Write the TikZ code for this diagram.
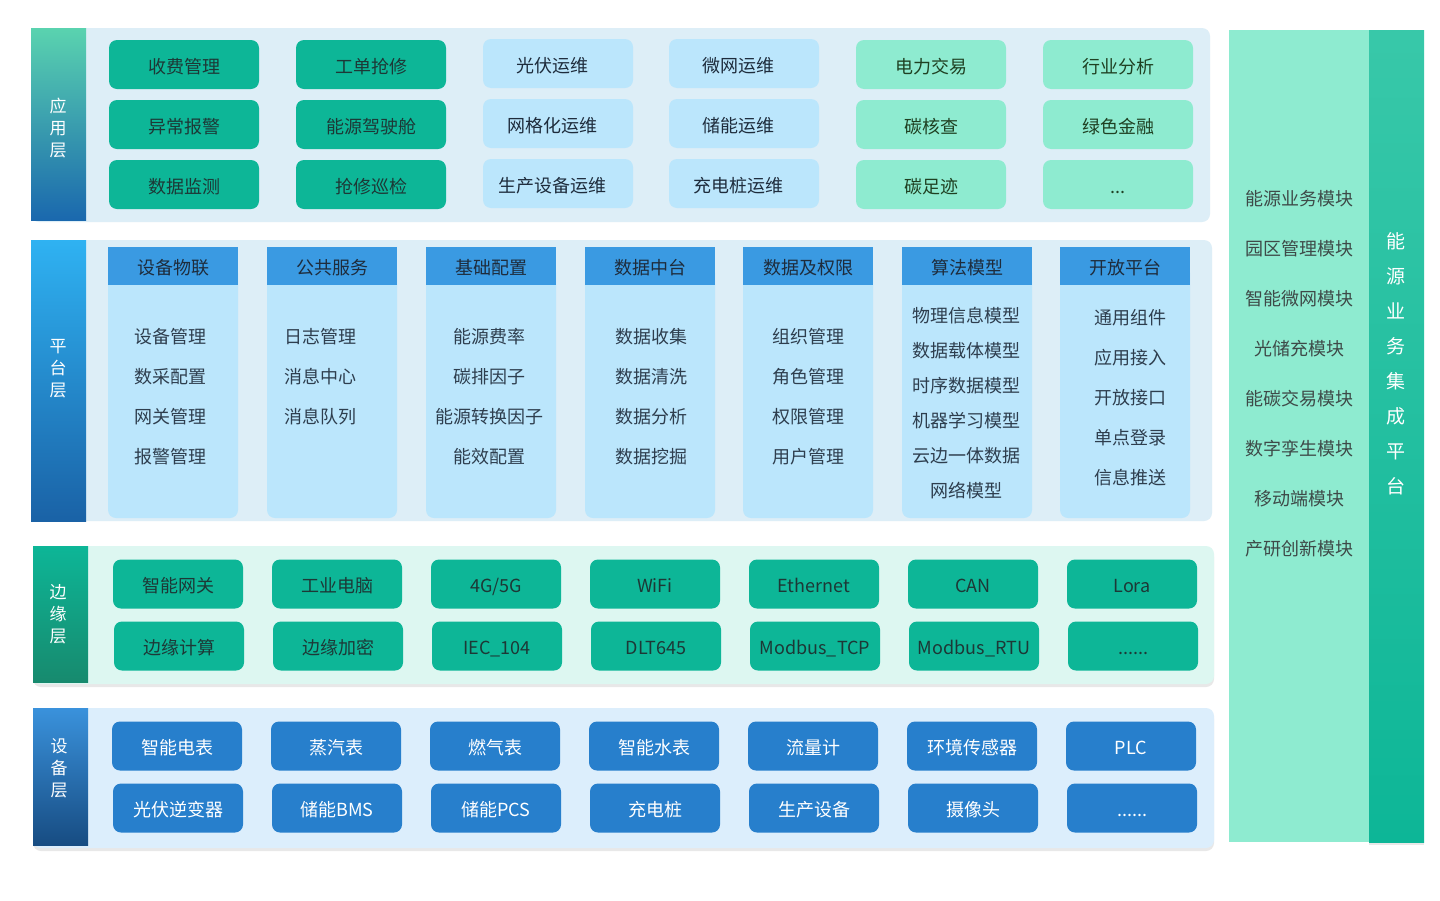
\documentclass[tikz,border=0pt]{standalone}
\usepackage{fontspec}
\setmainfont{Noto Sans CJK SC}
\usetikzlibrary{shadows}
\newcommand\mythreedots{...}
\newcommand\mysixdots{......}
\newcommand\lft[1]{#1\hspace*{12pt}}
\definecolor{teal1}{HTML}{0DB697}
\definecolor{lblue}{HTML}{BBE6FC}
\definecolor{mint}{HTML}{8EEBD0}
\definecolor{hdrblue}{HTML}{3A9AE2}
\definecolor{devblue}{HTML}{277FCC}
\definecolor{panelA}{HTML}{DDEEF7}
\definecolor{panelE}{HTML}{DDF7F1}
\definecolor{panelD}{HTML}{DCEEFC}
\definecolor{darktxt}{HTML}{1D3836}
\definecolor{bluetxt}{HTML}{1E2C3C}
\definecolor{greentxt}{HTML}{1F4022}
\definecolor{itemtxt}{HTML}{2E3E4E}
\definecolor{modtxt}{HTML}{3E4A48}
\definecolor{gAtop}{HTML}{5AD3AF}
\definecolor{gAbot}{HTML}{1A68AE}
\definecolor{gPtop}{HTML}{2FB2F2}
\definecolor{gPbot}{HTML}{1A62A6}
\definecolor{gEtop}{HTML}{0DB697}
\definecolor{gEbot}{HTML}{178A6E}
\definecolor{gDtop}{HTML}{3A92DC}
\definecolor{gDbot}{HTML}{174C82}
\definecolor{gItop}{HTML}{38C8A9}
\definecolor{gIbot}{HTML}{0DB697}
\tikzset{
  txt/.style={font=\fontsize{18}{21}\selectfont, inner sep=0pt, text height=20pt, text depth=3pt},
  boxbase/.style={txt, rounded corners=8pt, minimum height=49pt},
  appT/.style={boxbase, fill=teal1, text=darktxt, minimum width=150pt},
  appB/.style={boxbase, fill=lblue, text=bluetxt, minimum width=150pt},
  appM/.style={boxbase, fill=mint, text=greentxt, minimum width=150pt},
  hdr/.style={txt, fill=hdrblue, text=bluetxt, minimum width=130pt, minimum height=38pt},
  item/.style={txt, text=itemtxt},
  edgebox/.style={boxbase, fill=teal1, text=darktxt, minimum width=130pt},
  devbox/.style={boxbase, fill=devblue, text=white, minimum width=130pt},
  vlabel/.style={font=\fontsize{17}{22}\selectfont, text=white, align=center, inner sep=0pt},
  modlabel/.style={txt, text=modtxt},
  panelshadow/.style={drop shadow={opacity=0.18, shadow xshift=0pt, shadow yshift=-3pt}}
}
\begin{document}
\begin{tikzpicture}[x=1pt,y=-1pt]
\useasboundingbox (0,0) rectangle (1440,900);
\fill[white] (0,0) rectangle (1440,900);

% ===== Application layer =====
\path[fill=panelA, rounded corners=8pt] (31,28) rectangle (1210,222);
\shade[top color=gAtop, bottom color=gAbot] (31,28) rectangle (86,220);
\node[vlabel] (lApp) at (58,128) {应\\用\\层};
\foreach \t [count=\i] in {收费管理,异常报警,数据监测}
  \node[appT] (a1\i) at (184,4.5+60*\i) {\t};
\foreach \t [count=\i] in {工单抢修,能源驾驶舱,抢修巡检}
  \node[appT] (a2\i) at (371,4.5+60*\i) {\t};
\foreach \t [count=\i] in {光伏运维,网格化运维,生产设备运维}
  \node[appB] (a3\i) at (558,3.5+60*\i) {\lft{\t}};
\foreach \t [count=\i] in {微网运维,储能运维,充电桩运维}
  \node[appB] (a4\i) at (744,3.5+60*\i) {\lft{\t}};
\foreach \t [count=\i] in {电力交易,碳核查,碳足迹}
  \node[appM] (a5\i) at (931,4.5+60*\i) {\t};
\foreach \t [count=\i] in {行业分析,绿色金融,\mythreedots}
  \node[appM] (a6\i) at (1118,4.5+60*\i) {\t};

% ===== Platform layer =====
\path[fill=panelA, rounded corners=8pt] (31,240) rectangle (1212,521);
\shade[top color=gPtop, bottom color=gPbot] (31,240) rectangle (86,521);
\node[vlabel] (lPlat) at (58,369) {平\\台\\层};
\foreach \h/\x [count=\i] in {设备物联/173,公共服务/332,基础配置/491,数据中台/650,数据及权限/808,算法模型/967,开放平台/1125}{
  \fill[lblue, rounded corners=8pt] (\x-65,265) rectangle (\x+65,518);
  \node[hdr] (h\i) at (\x,266) {\h};
}
\foreach \t [count=\i] in {设备管理,数采配置,网关管理,报警管理}
  \node[item] (p1\i) at (170,294.5+40*\i) {\t};
\foreach \t [count=\i] in {日志管理,消息中心,消息队列}
  \node[item] (p2\i) at (320,294.5+40*\i) {\t};
\foreach \t [count=\i] in {能源费率,碳排因子,能源转换因子,能效配置}
  \node[item] (p3\i) at (489,294.5+40*\i) {\t};
\foreach \t [count=\i] in {数据收集,数据清洗,数据分析,数据挖掘}
  \node[item] (p4\i) at (651,294.5+40*\i) {\t};
\foreach \t [count=\i] in {组织管理,角色管理,权限管理,用户管理}
  \node[item] (p5\i) at (808,294.5+40*\i) {\t};
\foreach \t [count=\i] in {物理信息模型,数据载体模型,时序数据模型,机器学习模型,云边一体数据,网络模型}
  \node[item] (p6\i) at (966,279+35*\i) {\t};
\foreach \t [count=\i] in {通用组件,应用接入,开放接口,单点登录,信息推送}
  \node[item] (p7\i) at (1130,276+40*\i) {\t};

% ===== Edge layer =====
\path[fill=panelE, rounded corners=8pt, panelshadow] (33,546) rectangle (1214,684);
\shade[top color=gEtop, bottom color=gEbot] (33,546) rectangle (88,682);
\node[vlabel] (lEdge) at (58,614) {边\\缘\\层};
\foreach \t [count=\i] in {智能网关,工业电脑,4G/5G,WiFi,Ethernet,CAN,Lora}
  \node[edgebox] (e1\i) at (19+159*\i,584) {\t};
\foreach \t [count=\i] in {边缘计算,边缘加密,IEC\_104,DLT645,Modbus\_TCP,Modbus\_RTU,\mysixdots}
  \node[edgebox] (e2\i) at (20+159*\i,646) {\t};

% ===== Device layer =====
\path[fill=panelD, rounded corners=8pt, panelshadow] (33,708) rectangle (1214,848);
\shade[top color=gDtop, bottom color=gDbot] (33,708) rectangle (88,845);
\node[vlabel] (lDev) at (59,768) {设\\备\\层};
\foreach \t [count=\i] in {智能电表,蒸汽表,燃气表,智能水表,流量计,环境传感器,PLC}
  \node[devbox] (d1\i) at (18+159*\i,746) {\t};
\foreach \t [count=\i] in {光伏逆变器,储能BMS,储能PCS,充电桩,生产设备,摄像头,\mysixdots}
  \node[devbox] (d2\i) at (19+159*\i,808) {\t};

% ===== Right integration panel =====
\fill[mint] (1229,30) rectangle (1369,842);
\shade[top color=gItop, bottom color=gIbot, panelshadow] (1369,30) rectangle (1424,842);
\node[font=\fontsize{19}{35}\selectfont, text=white, align=center, inner sep=0pt] (lInt) at (1396,364)
  {能\\源\\业\\务\\集\\成\\平\\台};
\foreach \t [count=\i] in {能源业务模块,园区管理模块,智能微网模块,光储充模块,能碳交易模块,数字孪生模块,移动端模块,产研创新模块}
  \node[modlabel] (m\i) at (1299,147+50*\i) {\t};
\end{tikzpicture}
\end{document}
